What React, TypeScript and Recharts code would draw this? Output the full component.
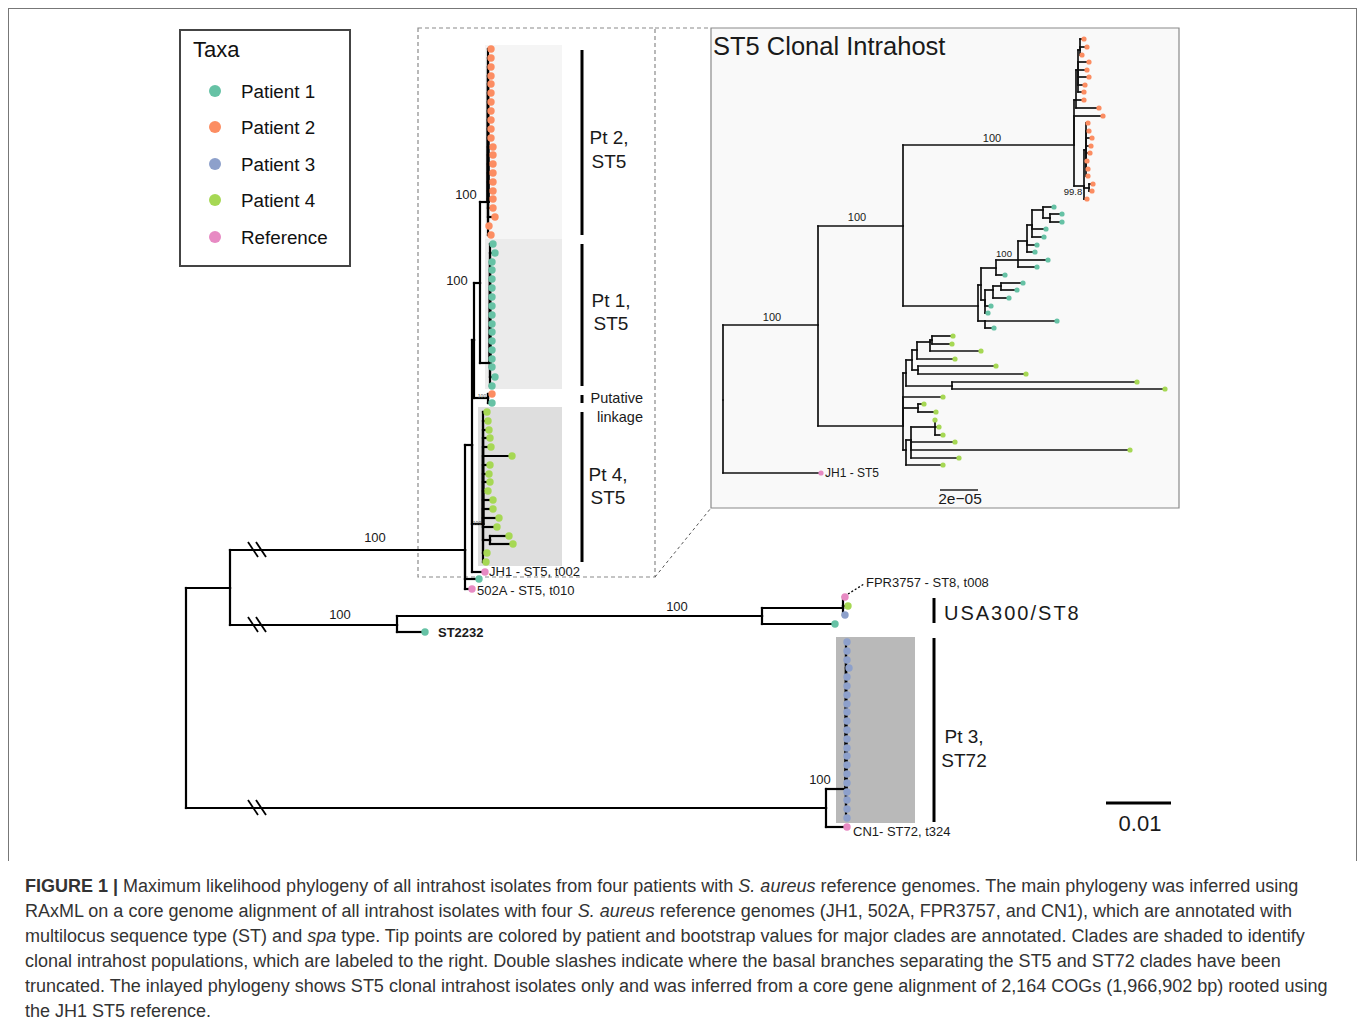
import React from 'react';
import { ScatterChart, Scatter, XAxis, YAxis, ReferenceLine, ReferenceArea } from 'recharts';

// taxa / colours
const taxa = ['Patient 1', 'Patient 2', 'Patient 3', 'Patient 4', 'Reference'];
const taxaKeys = ['p1', 'p2', 'p3', 'p4', 'ref'];
const taxaColors = ['#66c2a5', '#fc8d62', '#8da0cb', '#a6d854', '#e78ac3'];

// node = [id, parent, depth, row, taxon?]  (layout units of the figure)
type Node = [string, string | null, number, number, string?];

// ---------- main phylogeny ----------
const mainBackbone: Node[] = [
  ['R', null, 186, 588],
  ['A', 'R', 230, 588],
  ['ST5', 'A', 465, 550],
  ['ST8g', 'A', 397, 625],
  ['ST72', 'R', 826, 808],
  ['N1', 'ST5', 472, 445],
  ['502A', 'ST5', 472, 589, 'ref'],
  ['st5p1', 'ST5', 479, 579, 'p1'],
  ['X', 'N1', 474, 340],
  ['JH1', 'N1', 485, 572, 'ref'],
  ['P4', 'N1', 483, 524],
  ['P4s', 'P4', 490, 540],
  ['Y', 'X', 480, 283],
  ['LK', 'X', 488, 398],
  ['lk2', 'LK', 492, 394, 'p2'],
  ['lk1', 'LK', 492, 403, 'p1'],
  ['P2', 'Y', 488, 202],
  ['P1', 'Y', 490, 363],
  ['ST2232', 'ST8g', 425, 632, 'p1'],
  ['USA', 'ST8g', 762, 616],
  ['USAa', 'USA', 843, 608],
  ['FPR3757', 'USAa', 845, 597, 'ref'],
  ['usa4', 'USAa', 848, 606, 'p4'],
  ['usa3', 'USAa', 845, 615, 'p3'],
  ['usa1', 'USA', 835, 624, 'p1'],
  ['CN1', 'ST72', 847, 827, 'ref'],
  ['P3', 'ST72', 846, 789],
];

const mainPt2Tips = [
  [491, 49], [491, 58], [491, 67], [491, 76], [491, 84], [491, 93], [491, 102], [491, 111],
  [491, 120], [491, 129], [491, 138], [493, 147], [493, 155], [493, 164], [493, 173], [493, 182],
  [493, 191], [493, 199], [493, 208], [495, 217], [489, 226], [491, 235],
];
const mainPt1Tips = [
  [493, 244], [495, 253], [492, 262], [492, 270], [492, 279], [492, 288], [492, 297], [492, 306],
  [492, 315], [492, 324], [492, 332], [492, 341], [492, 350], [492, 359], [492, 367], [495, 377], [492, 386],
];
const mainPt4Tips = [
  [487, 412], [488, 421], [489, 430], [490, 438], [491, 447], [512, 456], [490, 465], [489, 474],
  [490, 482], [488, 491], [493, 500], [493, 509], [499, 518], [497, 527], [487, 553], [486, 562],
];
const mainPt4PairTips = [[509, 536], [513, 544]];
const mainPt3Tips = [
  [847, 642], [847, 651], [847, 660], [849, 668], [847, 677], [847, 686], [847, 695], [847, 704],
  [847, 712], [847, 721], [847, 730], [847, 739], [847, 748], [847, 756], [847, 765], [847, 774],
  [847, 783], [847, 792], [847, 800], [847, 809], [847, 818],
];

// ---------- inset: ST5 clonal intrahost ----------
const insetBackbone: Node[] = [
  ['iR', null, 723, 400],
  ['iJH1', 'iR', 821, 473, 'ref'],
  ['iB', 'iR', 818, 325],
  ['iC', 'iB', 903, 226],
  ['iP4', 'iB', 903, 426],
  ['iP2', 'iC', 1074, 145],
  ['iP1', 'iC', 978, 306],
];
const insetPt2Nodes: Node[] = [
  ['Ua', 'iP2', 1076, 100], ['u11', 'iP2', 1103, 116, 'p2'], ['La', 'iP2', 1084, 186],
  ['Ub', 'Ua', 1078, 70], ['u9', 'Ua', 1084, 100, 'p2'], ['u10', 'Ua', 1099, 108, 'p2'],
  ['Uc', 'Ub', 1080, 50],
  ['u4', 'Ub', 1089, 62, 'p2'], ['u5', 'Ub', 1087, 70, 'p2'], ['u6', 'Ub', 1089, 77, 'p2'],
  ['u7', 'Ub', 1085, 85, 'p2'], ['u8', 'Ub', 1084, 92, 'p2'],
  ['u1', 'Uc', 1084, 39, 'p2'], ['u2', 'Uc', 1087, 47, 'p2'], ['u3', 'Uc', 1082, 55, 'p2'],
  ['Lb', 'La', 1086, 150], ['l11', 'La', 1087, 199, 'p2'], ['Lc', 'La', 1089, 188],
  ['l1', 'Lb', 1088, 123, 'p2'], ['l2', 'Lb', 1089, 131, 'p2'], ['l3', 'Lb', 1092, 138, 'p2'],
  ['l4', 'Lb', 1091, 146, 'p2'], ['l5', 'Lb', 1090, 153, 'p2'], ['l6', 'Lb', 1087, 161, 'p2'],
  ['l7', 'Lb', 1088, 169, 'p2'], ['l8', 'Lb', 1088, 176, 'p2'],
  ['l9', 'Lc', 1093, 184, 'p2'], ['l10', 'Lc', 1092, 191, 'p2'],
];
const insetPt1Nodes: Node[] = [
  ['P1A', 'iP1', 981, 285], ['P1E', 'iP1', 985, 321],
  ['e1', 'P1E', 1057, 321, 'p1'], ['e2', 'P1E', 994, 328, 'p1'],
  ['P1up', 'P1A', 996, 268], ['P1low', 'P1A', 985, 300],
  ['a1', 'P1up', 1005, 275, 'p1'], ['P1u2', 'P1up', 1018, 260],
  ['P1u3', 'P1u2', 1027, 241], ['a2', 'P1u2', 1048, 260, 'p1'], ['a3', 'P1u2', 1037, 267, 'p1'],
  ['P1u4', 'P1u3', 1032, 225], ['a4', 'P1u3', 1037, 245, 'p1'], ['a5', 'P1u3', 1035, 252, 'p1'],
  ['P1u5', 'P1u4', 1043, 210], ['a6', 'P1u4', 1046, 229, 'p1'], ['a7', 'P1u4', 1044, 237, 'p1'],
  ['a8', 'P1u5', 1054, 207, 'p1'], ['P1u6', 'P1u5', 1050, 218],
  ['a9', 'P1u6', 1062, 214, 'p1'], ['a10', 'P1u6', 1062, 222, 'p1'],
  ['P1l2', 'P1low', 993, 290], ['b1', 'P1low', 991, 306, 'p1'], ['b2', 'P1low', 988, 313, 'p1'],
  ['P1l3', 'P1l2', 1001, 286], ['b3', 'P1l2', 1009, 298, 'p1'],
  ['b4', 'P1l3', 1023, 283, 'p1'], ['b5', 'P1l3', 1017, 290, 'p1'],
];
const insetPt4Nodes: Node[] = [
  ['G1', 'iP4', 906, 373], ['g0', 'iP4', 943, 397, 'p4'], ['G2', 'iP4', 918, 408], ['G3', 'iP4', 906, 450],
  ['Ga', 'G1', 912, 360], ['Gb', 'G1', 952, 386],
  ['g1', 'Gb', 1137, 382, 'p4'], ['g2', 'Gb', 1165, 389, 'p4'],
  ['Gc', 'Ga', 917, 350], ['Gd', 'Ga', 918, 370],
  ['g3', 'Gd', 996, 366, 'p4'], ['g4', 'Gd', 1026, 374, 'p4'],
  ['Ge', 'Gc', 930, 342], ['g5', 'Gc', 955, 359, 'p4'],
  ['Gf', 'Ge', 932, 340], ['g6', 'Ge', 981, 351, 'p4'],
  ['g7', 'Gf', 953, 336, 'p4'], ['g8', 'Gf', 952, 344, 'p4'],
  ['g9', 'G2', 924, 404, 'p4'], ['g10', 'G2', 936, 412, 'p4'],
  ['G3a', 'G3', 911, 440], ['g11', 'G3', 943, 465, 'p4'],
  ['G3b', 'G3a', 935, 427], ['g12', 'G3a', 955, 442, 'p4'], ['g13', 'G3a', 1130, 450, 'p4'], ['g14', 'G3a', 959, 458, 'p4'],
  ['g15', 'G3b', 935, 420, 'p4'], ['g16', 'G3b', 939, 427, 'p4'], ['g17', 'G3b', 943, 435, 'p4'],
];

// bootstrap supports
const mainSupport = [
  { x: 375, y: 537, text: '100' }, { x: 340, y: 614, text: '100' }, { x: 677, y: 606, text: '100' },
  { x: 820, y: 779, text: '100' }, { x: 466, y: 194, text: '100' }, { x: 457, y: 280, text: '100' },
];
const tinySupport = [{ x: 482, y: 396, text: '100' }, { x: 477, y: 523, text: '100' }];
const insetSupport = [
  { x: 772, y: 317, text: '100' }, { x: 857, y: 217, text: '100' }, { x: 992, y: 138, text: '100' },
];
const insetSmallSupport = [{ x: 1004, y: 253, text: '100' }, { x: 1073, y: 191, text: '99.8' }];

// tip names
const mainTipNames = [
  { x: 489, y: 571, text: 'JH1 - ST5, t002' },
  { x: 477, y: 590, text: '502A - ST5, t010' },
  { x: 866, y: 582, text: 'FPR3757 - ST8, t008' },
  { x: 853, y: 831, text: 'CN1- ST72, t324' },
];
const insetTipNames = [{ x: 825, y: 473, text: 'JH1 - ST5' }];

// clade labels & bars
const cladeLabels = [
  { x: 609, y: 137, text: 'Pt 2,' }, { x: 609, y: 161, text: 'ST5' },
  { x: 611, y: 300, text: 'Pt 1,' }, { x: 611, y: 323, text: 'ST5' },
  { x: 608, y: 474, text: 'Pt 4,' }, { x: 608, y: 497, text: 'ST5' },
  { x: 964, y: 736, text: 'Pt 3,' }, { x: 964, y: 760, text: 'ST72' },
];
const linkageLabels = [{ x: 643, y: 398, text: 'Putative' }, { x: 643, y: 417, text: 'linkage' }];
const cladeBars = [
  { x: 582, y1: 50, y2: 235 }, { x: 582, y1: 244, y2: 386 }, { x: 582, y1: 395, y2: 403 },
  { x: 582, y1: 412, y2: 562 }, { x: 934, y1: 598, y2: 623 }, { x: 934, y1: 638, y2: 822 },
];
const cladeShades = [
  { x1: 485, x2: 562, y1: 45, y2: 239, fill: '#f5f5f5' },
  { x1: 485, x2: 562, y1: 239, y2: 389, fill: '#ebebeb' },
  { x1: 478, x2: 562, y1: 407, y2: 566, fill: '#dedede' },
  { x1: 836, x2: 915, y1: 637, y2: 823, fill: '#b9b9b9' },
];
const truncatedRows = [550, 625, 808];

function buildTree(nodes: Node[]) {
  const byId = new Map(nodes.map((n) => [n[0], n]));
  const segs: number[][] = [];
  const tips: { x: number; y: number; g: string }[] = [];
  nodes.forEach((n) => {
    if (n[4]) tips.push({ x: n[2], y: n[3], g: n[4] });
    if (!n[1]) return;
    const p = byId.get(n[1])!;
    if (p[3] !== n[3]) segs.push([p[2], p[3], p[2], n[3]]);
    segs.push([p[2], n[3], n[2], n[3]]);
  });
  return { segs, tips };
}

const attach = (arr: number[][], parent: string, g: string, tag: string): Node[] =>
  arr.map((t, i) => [`${tag}${i}`, parent, t[0], t[1], g] as Node);

const mainTree = buildTree([
  ...mainBackbone,
  ...attach(mainPt2Tips, 'P2', 'p2', 'm2_'),
  ...attach(mainPt1Tips, 'P1', 'p1', 'm1_'),
  ...attach(mainPt4Tips, 'P4', 'p4', 'm4_'),
  ...attach(mainPt4PairTips, 'P4s', 'p4', 'm4s_'),
  ...attach(mainPt3Tips, 'P3', 'p3', 'm3_'),
]);
const insetTree = buildTree([...insetBackbone, ...insetPt2Nodes, ...insetPt1Nodes, ...insetPt4Nodes]);

const FONT = '"Liberation Sans", Arial, Helvetica, sans-serif';

const textShape = (size: number, anchor: string, opts: any = {}) => (props: any) => {
  const p = props.payload || props;
  return (
    <text
      x={props.cx}
      y={props.cy}
      fontSize={size}
      textAnchor={anchor}
      dominantBaseline="central"
      fontFamily={FONT}
      fontWeight={opts.bold ? 'bold' : 'normal'}
      letterSpacing={opts.ls || 0}
      fill={opts.color || '#1a1a1a'}
    >
      {p.text}
    </text>
  );
};

const dotShape = (r: number, color: string) => (props: any) => (
  <circle cx={props.cx} cy={props.cy} r={r} fill={color} />
);

const TreeChart = () => (
  <ScatterChart width={1358} height={870} margin={{ top: 0, right: 0, bottom: 0, left: 0 }}>
    <XAxis type="number" dataKey="x" domain={[0, 1358]} hide allowDataOverflow />
    <YAxis type="number" dataKey="y" domain={[0, 870]} reversed hide allowDataOverflow />

    {cladeShades.map((s, i) => (
      <ReferenceArea key={`sh${i}`} x1={s.x1} x2={s.x2} y1={s.y1} y2={s.y2}
        fill={s.fill} fillOpacity={1} stroke="none" zIndex={-10} />
    ))}
    {/* inset panel + dashed zoom box */}
    <ReferenceArea x1={711} x2={1179} y1={28} y2={508} fill="#f9f9f9" fillOpacity={1}
      stroke="#8a8a8a" strokeWidth={1.2} zIndex={-10} />
    <ReferenceArea x1={418} x2={655} y1={28} y2={577} fill="none" fillOpacity={0}
      stroke="#8a8a8a" strokeWidth={1.2} strokeDasharray="4 3" zIndex={-5} />
    <ReferenceLine segment={[{ x: 655, y: 28 }, { x: 711, y: 28 }]} stroke="#8a8a8a" strokeWidth={1.2} strokeDasharray="4 3" />
    <ReferenceLine segment={[{ x: 655, y: 577 }, { x: 711, y: 508 }]} stroke="#555" strokeWidth={1} strokeDasharray="3 3" />

    {mainTree.segs.map((s, i) => (
      <ReferenceLine key={`ms${i}`} segment={[{ x: s[0], y: s[1] }, { x: s[2], y: s[3] }]}
        stroke="#000" strokeWidth={2.2} strokeLinecap="square" />
    ))}
    {insetTree.segs.map((s, i) => (
      <ReferenceLine key={`is${i}`} segment={[{ x: s[0], y: s[1] }, { x: s[2], y: s[3] }]}
        stroke="#111" strokeWidth={1.7} strokeLinecap="square" />
    ))}
    {truncatedRows.flatMap((y, i) => [-4, 4].map((dx, j) => (
      <ReferenceLine key={`tr${i}${j}`} segment={[{ x: 252 + dx, y: y - 8 }, { x: 262 + dx, y: y + 7 }]}
        stroke="#000" strokeWidth={1.8} />
    )))}
    <ReferenceLine segment={[{ x: 848, y: 594 }, { x: 864, y: 584 }]} stroke="#000" strokeWidth={1.3} strokeDasharray="2 2" />

    {cladeBars.map((b, i) => (
      <ReferenceLine key={`cb${i}`} segment={[{ x: b.x, y: b.y1 }, { x: b.x, y: b.y2 }]} stroke="#000" strokeWidth={3} />
    ))}
    {/* scale bars */}
    <ReferenceLine segment={[{ x: 1106, y: 803 }, { x: 1171, y: 803 }]} stroke="#000" strokeWidth={3} />
    <ReferenceLine segment={[{ x: 940, y: 490 }, { x: 978, y: 490 }]} stroke="#222" strokeWidth={1.3} />

    {taxaKeys.map((k, i) => (
      <Scatter key={`mt${k}`} data={mainTree.tips.filter((t) => t.g === k)} shape={dotShape(3.7, taxaColors[i])}
        isAnimationActive={false} zIndex={600} />
    ))}
    {taxaKeys.map((k, i) => (
      <Scatter key={`it${k}`} data={insetTree.tips.filter((t) => t.g === k)} shape={dotShape(2.6, taxaColors[i])}
        isAnimationActive={false} zIndex={600} />
    ))}

    <Scatter data={mainSupport} shape={textShape(13, 'middle')} isAnimationActive={false} zIndex={700} />
    <Scatter data={tinySupport} shape={textShape(5, 'middle', { color: '#555' })} isAnimationActive={false} zIndex={700} />
    <Scatter data={insetSupport} shape={textShape(11, 'middle')} isAnimationActive={false} zIndex={700} />
    <Scatter data={insetSmallSupport} shape={textShape(9.5, 'middle')} isAnimationActive={false} zIndex={700} />
    <Scatter data={mainTipNames} shape={textShape(13, 'start')} isAnimationActive={false} zIndex={700} />
    <Scatter data={[{ x: 438, y: 632, text: 'ST2232' }]} shape={textShape(13, 'start', { bold: true })} isAnimationActive={false} zIndex={700} />
    <Scatter data={insetTipNames} shape={textShape(12, 'start')} isAnimationActive={false} zIndex={700} />
    <Scatter data={cladeLabels} shape={textShape(19, 'middle')} isAnimationActive={false} zIndex={700} />
    <Scatter data={linkageLabels} shape={textShape(14.5, 'end')} isAnimationActive={false} zIndex={700} />
    <Scatter data={[{ x: 944, y: 613, text: 'USA300/ST8' }]} shape={textShape(20, 'start', { ls: 2 })} isAnimationActive={false} zIndex={700} />
    <Scatter data={[{ x: 1140, y: 823, text: '0.01' }]} shape={textShape(22, 'middle')} isAnimationActive={false} zIndex={700} />
    <Scatter data={[{ x: 960, y: 498, text: '2e\u221205' }]} shape={textShape(15.5, 'middle')} isAnimationActive={false} zIndex={700} />
    <Scatter data={[{ x: 713, y: 46, text: 'ST5 Clonal Intrahost' }]} shape={textShape(25.5, 'start')} isAnimationActive={false} zIndex={700} />
  </ScatterChart>
);

const legendRows = [91, 127, 164, 200, 237];

const captionLines = [
  [<b key="b">FIGURE 1 | </b>, 'Maximum likelihood phylogeny of all intrahost isolates from four patients with ', <i key="i">S. aureus</i>, ' reference genomes. The main phylogeny was inferred using'],
  ['RAxML on a core genome alignment of all intrahost isolates with four ', <i key="i">S. aureus</i>, ' reference genomes (JH1, 502A, FPR3757, and CN1), which are annotated with'],
  ['multilocus sequence type (ST) and ', <i key="i">spa</i>, ' type. Tip points are colored by patient and bootstrap values for major clades are annotated. Clades are shaded to identify'],
  ['clonal intrahost populations, which are labeled to the right. Double slashes indicate where the basal branches separating the ST5 and ST72 clades have been'],
  ['truncated. The inlayed phylogeny shows ST5 clonal intrahost isolates only and was inferred from a core gene alignment of 2,164 COGs (1,966,902 bp) rooted using'],
  ['the JH1 ST5 reference.'],
];

const App = () => (
  <div style={{ position: 'fixed', left: 0, top: 0, width: 1358, height: 1022, overflow: 'hidden', background: '#fff', fontFamily: FONT }}>
    <div style={{ position: 'absolute', left: 8, top: 8, width: 1347, height: 852, borderLeft: '1px solid #777', borderTop: '1px solid #777', borderRight: '1px solid #777' }} />
    <div style={{ position: 'absolute', left: 0, top: 0 }}>
      <TreeChart />
    </div>
    {/* legend */}
    <div style={{ position: 'absolute', left: 179, top: 29, width: 172, height: 238, boxSizing: 'border-box', border: '2px solid #444', background: '#fff' }} />
    <div style={{ position: 'absolute', left: 193, top: 50, transform: 'translateY(-50%)', fontSize: 22, lineHeight: '22px', color: '#111' }}>Taxa</div>
    {taxa.map((t, i) => (
      <React.Fragment key={t}>
        <div style={{ position: 'absolute', left: 209, top: legendRows[i] - 6, width: 12, height: 12, borderRadius: 6, background: taxaColors[i] }} />
        <div style={{ position: 'absolute', left: 241, top: legendRows[i], transform: 'translateY(-50%)', fontSize: 18.8, lineHeight: '19px', color: '#111' }}>{t}</div>
      </React.Fragment>
    ))}
    {/* caption */}
    <div style={{ position: 'absolute', left: 25, top: 874, fontSize: 18, lineHeight: '25px', color: '#333', whiteSpace: 'nowrap' }}>
      {captionLines.map((l, i) => <div key={i}>{l}</div>)}
    </div>
  </div>
);

export default App;
